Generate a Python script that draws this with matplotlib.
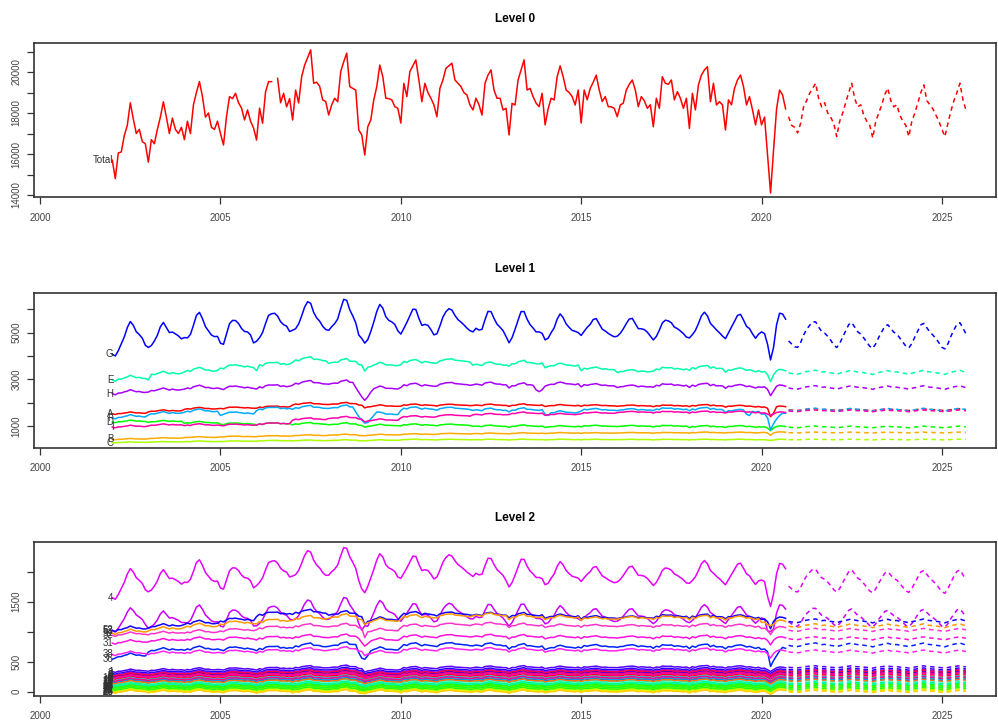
import numpy as np
import pandas as pd
import matplotlib
matplotlib.use("Agg")
import matplotlib.pyplot as plt

plt.rcParams['font.family'] = ['Liberation Sans', 'DejaVu Sans']

# ---------------- data ----------------
# history: monthly Jan 2002 .. Sep 2020, forecasts: Oct 2020 .. Sep 2025
first_year = 2002
fc_start = 2020 + 9 / 12

# Level 0 - Total, one row per year (Jan..Dec), July 2006 is missing
total_hist = [
    [15700, 14800, 16050, 16100, 16900, 17400, 18500, 17700, 17000, 17200, 16600, 16500],
    [15600, 16700, 16500, 17200, 17800, 18550, 17800, 17000, 17750, 17200, 17000, 17300],
    [16700, 17600, 17000, 18400, 19000, 19530, 18800, 17800, 18000, 17300, 17200, 17600],
    [17000, 16440, 17820, 18800, 18700, 18960, 18500, 18240, 17660, 18150, 17600, 17270],
    [16680, 18240, 17500, 19040, 19530, 19530, np.nan, 19690, 18500, 18960, 18300, 18700],
    [17660, 19120, 18490, 19770, 20340, 20700, 21080, 19450, 19500, 19300, 18640, 18560],
    [17900, 18400, 18720, 18550, 20020, 20500, 20920, 19290, 19200, 19120, 17170, 16930],
    [15950, 17330, 17660, 18640, 19290, 20340, 19770, 18720, 18700, 18640, 18310, 18230],
    [17510, 19450, 18800, 20020, 20300, 20590, 19610, 18550, 19450, 19000, 18720, 18400],
    [17820, 19200, 19610, 20180, 20300, 20430, 19610, 19450, 19290, 18990, 18880, 18390],
    [18150, 18720, 18400, 17900, 19450, 19850, 20100, 19120, 18720, 18720, 18150, 18230],
    [16930, 18470, 18390, 19610, 20100, 20590, 19120, 19200, 18800, 18480, 18310, 18960],
    [17420, 18200, 18720, 18640, 19770, 20300, 19770, 19120, 19000, 18800, 18390, 19120],
    [17510, 19120, 18640, 19200, 19500, 19850, 19120, 18560, 18800, 18310, 18300, 18230],
    [17820, 18390, 18480, 19120, 19400, 19610, 19120, 18310, 18800, 18600, 18230, 18400],
    [17330, 18720, 18230, 19770, 19450, 19400, 19610, 18640, 19040, 18720, 18230, 18720],
    [17250, 18960, 18150, 19370, 19850, 20100, 20260, 18550, 19450, 18390, 18550, 18400],
    [17170, 18640, 18400, 19200, 19610, 19850, 19290, 18390, 18800, 18150, 17420, 18150],
    [17420, 17800, 15950, 14100, 16200, 18200, 19120, 18880, 18200],
]
total_fc = [
    17820, 17400, 17300, 17030, 17500, 18310, 18600, 18960, 19200, 19450, 18700, 18300,
    18500, 18000, 17800, 17500, 16850, 17600, 18000, 18500, 19000, 19450, 18700, 18300,
    18400, 17900, 17600, 17400, 16780, 17600, 18000, 18400, 18900, 19210, 18600, 18300,
    18400, 17900, 17600, 17400, 16850, 17600, 18000, 18500, 19000, 19370, 18600, 18400,
    18200, 17900, 17600, 17200, 16850, 17500, 18100, 18600, 19000, 19450, 18640, 18150,
]

# Level 1 - yearly levels 2002..2020, forecast level, seasonal share of the total
lvl1_names = ['A', 'B', 'C', 'D', 'E', 'F', 'G', 'H', 'I']
lvl1_colors = ['#FF0000', '#FFAA00', '#AAFF00', '#00FF00', '#00FFAA',
               '#00AAFF', '#0000FF', '#AA00FF', '#FF00AA']
lvl1_levels = {
    'A': [1550, 1650, 1750, 1780, 1820, 1950, 1950, 1850, 1900, 1900, 1900, 1900, 1880, 1880, 1870, 1870, 1880, 1850, 1800],
    'B': [440, 480, 520, 550, 570, 600, 620, 620, 650, 670, 680, 690, 700, 700, 710, 710, 720, 720, 720],
    'C': [300, 320, 340, 350, 370, 380, 390, 390, 420, 420, 420, 420, 420, 420, 420, 420, 420, 420, 410],
    'D': [1200, 1200, 1150, 1100, 1100, 1100, 1080, 1020, 1050, 1050, 1000, 1000, 980, 1000, 1000, 1000, 980, 980, 950],
    'E': [3050, 3250, 3400, 3550, 3650, 3850, 3750, 3600, 3750, 3800, 3650, 3700, 3600, 3450, 3350, 3450, 3500, 3400, 3300],
    'F': [1400, 1550, 1650, 1550, 1750, 1800, 1800, 1500, 1750, 1750, 1700, 1700, 1580, 1700, 1700, 1730, 1730, 1650, 1500],
    'G': [4750, 4900, 5150, 5050, 5300, 5600, 5550, 5400, 5400, 5500, 5350, 5250, 5200, 5150, 5200, 5150, 5250, 5200, 5000],
    'H': [2450, 2550, 2650, 2650, 2700, 2850, 2850, 2600, 2750, 2800, 2800, 2750, 2800, 2750, 2700, 2750, 2750, 2700, 2650],
    'I': [980, 1050, 1050, 1050, 1100, 1300, 1350, 1250, 1400, 1450, 1500, 1550, 1500, 1560, 1600, 1600, 1600, 1600, 1550],
}
lvl1_fc = {'A': 1700, 'B': 720, 'C': 420, 'D': 960, 'E': 3300,
           'F': 1700, 'G': 4880, 'H': 2650, 'I': 1650}
lvl1_beta = {'A': 0.03, 'B': 0.015, 'C': 0.012, 'D': 0.03, 'E': 0.07,
             'F': 0.05, 'G': 0.55, 'H': 0.06, 'I': 0.03}
# (year, month, value) points that break the usual pattern
lvl1_fixes = {
    'A': [(2020, 4, 1400), (2020, 5, 1550)],
    'B': [(2020, 4, 600)],
    'C': [(2020, 4, 380)],
    'D': [(2020, 4, 800)],
    'E': [(2003, 1, 2970), (2006, 1, 3370), (2009, 1, 3350), (2020, 4, 2900), (2020, 5, 3200)],
    'F': [(2005, 1, 1450), (2005, 2, 1500), (2008, 10, 1600), (2008, 11, 1400), (2008, 12, 1250),
          (2009, 1, 1120), (2009, 2, 1150), (2009, 3, 1300), (2009, 4, 1450), (2009, 5, 1600),
          (2014, 1, 1500), (2014, 2, 1450), (2019, 8, 1500), (2019, 9, 1450),
          (2020, 3, 1350), (2020, 4, 830), (2020, 5, 1100), (2020, 6, 1300), (2020, 7, 1450), (2020, 8, 1550)],
    'G': [(2008, 11, 4900), (2008, 12, 4750), (2009, 1, 4550), (2009, 2, 4700),
          (2020, 3, 4500), (2020, 4, 3830)],
    'H': [(2008, 10, 2650), (2008, 11, 2450), (2008, 12, 2250), (2009, 1, 2100), (2009, 2, 2250),
          (2009, 3, 2450), (2009, 4, 2600), (2013, 10, 2550), (2013, 11, 2470), (2013, 12, 2550),
          (2020, 4, 2300), (2020, 5, 2500)],
    'I': [(2020, 4, 1450)],
}
# series whose swing follows the smoothed seasonal shape of the total
smooth_series = {'G', '4', '53'}

# Level 2 - the series that stand apart
lvl2_names = ['4', '53', '52', '51', '32', '31', '36', '38']
lvl2_colors = ['#E600FF', '#CC00FF', '#1400FF', '#FF9900', '#FF33CC', '#FF11DD', '#0022FF', '#FF22EE']
lvl2_levels = {
    '4':  [1800, 1850, 1950, 1900, 2000, 2100, 2100, 2020, 2050, 2100, 2030, 1980, 1960, 1930, 1950, 1930, 1970, 1940, 1850],
    '53': [1200, 1200, 1250, 1230, 1280, 1330, 1330, 1300, 1300, 1330, 1300, 1280, 1270, 1260, 1270, 1260, 1280, 1260, 1220],
    '52': [1050, 1100, 1150, 1200, 1300, 1330, 1300, 1200, 1300, 1300, 1290, 1280, 1260, 1240, 1240, 1260, 1260, 1250, 1200],
    '51': [1000, 1050, 1100, 1150, 1180, 1230, 1250, 1180, 1250, 1270, 1280, 1250, 1240, 1220, 1230, 1240, 1240, 1230, 1150],
    '32': [960, 980, 1000, 1030, 1070, 1100, 1100, 1020, 1100, 1120, 1130, 1110, 1100, 1100, 1100, 1100, 1110, 1100, 1050],
    '31': [830, 860, 880, 890, 900, 920, 920, 860, 920, 930, 930, 920, 910, 910, 910, 910, 915, 910, 880],
    '36': [600, 700, 720, 720, 730, 770, 780, 700, 780, 790, 780, 760, 740, 760, 760, 760, 760, 750, 700],
    '38': [640, 650, 660, 670, 680, 700, 710, 650, 700, 710, 710, 700, 690, 690, 700, 700, 700, 690, 660],
}
lvl2_fc = {'4': 1840, '53': 1230, '52': 1180, '51': 1100, '32': 1030, '31': 890, '36': 780, '38': 670}
lvl2_beta = {'4': 0.19, '53': 0.15, '52': 0.025, '51': 0.025, '32': 0.02, '31': 0.02, '36': 0.025, '38': 0.02}
lvl2_fixes = {
    '4': [(2009, 1, 1650), (2020, 4, 1420)],
    '53': [(2009, 1, 1100), (2020, 4, 1000)],
    '52': [(2009, 1, 1120), (2020, 4, 1050)],
    '51': [(2020, 4, 1100)],
    '32': [(2009, 1, 900), (2020, 4, 950)],
    '31': [(2008, 12, 820), (2009, 1, 760), (2009, 2, 800), (2020, 4, 780)],
    '36': [(2002, 1, 540), (2002, 2, 560), (2008, 11, 650), (2008, 12, 560), (2009, 1, 540),
           (2009, 2, 600), (2020, 4, 420), (2020, 5, 520), (2020, 6, 600), (2020, 7, 680)],
    '38': [(2009, 1, 600), (2020, 4, 560)],
}

# Level 2 - the crowded band near zero
band_names = ['1', '2', '3', '5', '6', '7', '8', '9', '10', '11', '12', '13', '14', '15',
              '16', '17', '18', '19', '20', '21', '22', '23', '24', '25', '26', '27', '28', '29']
band_colors = ['#5500FF', '#2200FF', '#8800FF', '#0000FF', '#FF0044', '#FF0066', '#FF0022',
               '#FF2200', '#FF00AA', '#00DDFF', '#00FFCC', '#00AAFF', '#0066FF', '#00FFEE',
               '#FF7700', '#00FF66', '#00FF00', '#22FF00', '#44FF00', '#00FF33', '#66FF00',
               '#00FF11', '#99FF00', '#CCFF00', '#FFEE00', '#FFCC00', '#00FFAA', '#FF0088']
band_base = [350, 320, 300, 275, 290, 260, 235, 215, 250, 210, 180, 195, 170, 150,
             160, 125, 105, 90, 75, 62, 50, 38, 27, 17, 9, 4, 115, 200]
band_index = [1.00, 1.04, 1.07, 1.09, 1.11, 1.17, 1.18, 1.04, 1.14, 1.16, 1.17, 1.17,
              1.16, 1.17, 1.18, 1.18, 1.19, 1.18, 1.10]
band_fc_index = 1.18
band_beta = 0.015

# ---------------- build the monthly series ----------------
tot_h = np.array([v for row in total_hist for v in row], dtype=float)
tot_f = np.array(total_fc, dtype=float)
n_h, n_f = len(tot_h), len(tot_f)
t_hist = first_year + np.arange(n_h) / 12
t_fc = fc_start + np.arange(n_f) / 12
year_idx = np.arange(n_h) // 12

annual = np.array([np.nanmean(row) for row in total_hist])
dev_h = pd.Series(tot_h - annual[year_idx]).ffill()
dev_f = pd.Series(tot_f - tot_f.mean())


def soften(s):
    # 1-2-1 weights, keeps the peaks but drops the month to month jitter
    return (0.25 * s.shift(1).bfill() + 0.5 * s + 0.25 * s.shift(-1).ffill()).values


dev_h_soft, dev_f_soft = soften(dev_h), soften(dev_f)
dev_h, dev_f = dev_h.values, dev_f.values


def build(levels, fc_level, beta, fixes=(), smooth=False):
    dh, df = (dev_h_soft, dev_f_soft) if smooth else (dev_h, dev_f)
    h = np.asarray(levels, dtype=float)[year_idx] + beta * dh
    for y, m, v in fixes:
        h[(y - first_year) * 12 + m - 1] = v
    f = fc_level + beta * df
    return h, f


def draw(ax, h, f, color, name):
    ax.plot(t_hist, h, color=color, lw=1.1)
    ax.plot(t_fc, f, color=color, lw=1.1, dashes=(3, 2.5))
    ax.text(2002.03, h[0], name, ha='right', va='center', fontsize=7, color='#333333')


# ---------------- figure ----------------
W, H = 998, 724
fig = plt.figure(figsize=(W / 100, H / 100), dpi=100)


def panel(top, bottom):
    return fig.add_axes([34 / W, 1 - bottom / H, 962 / W, (bottom - top) / H])


def style(ax, ylim, yticks, ylabels, title):
    ax.set_xlim(1999.83, 2026.5)
    ax.set_ylim(*ylim)
    ax.set_xticks(range(2000, 2026, 5))
    ax.set_xticklabels([str(y) for y in range(2000, 2026, 5)])
    ax.set_yticks(yticks)
    ax.set_yticklabels(ylabels, rotation=90, va='center')
    ax.tick_params(direction='out', length=5, width=0.9, colors='#333333',
                   labelcolor='#444444', labelsize=7)
    ax.tick_params(axis='x', pad=6)
    ax.tick_params(axis='y', pad=4)
    for s in ax.spines.values():
        s.set_linewidth(1.2)
        s.set_color('#333333')
    ax.set_title(title, fontsize=8.5, fontweight='bold', pad=15)


ax0 = panel(43.3, 197.3)
ax1 = panel(293.3, 447.7)
ax2 = panel(541.7, 696)

# Level 0
ax0.plot(t_hist, tot_h, color='#FF0000', lw=1.1)
ax0.plot(t_fc, tot_f, color='#FF0000', lw=1.1, dashes=(3, 2.5))
ax0.text(2002.03, tot_h[0], 'Total', ha='right', va='center', fontsize=7, color='#333333')
style(ax0, (13888, 21400), range(14000, 21001, 1000),
      ['14000', '', '16000', '', '18000', '', '20000', ''], 'Level 0')

# Level 1
for name, col in zip(lvl1_names, lvl1_colors):
    h, f = build(lvl1_levels[name], lvl1_fc[name], lvl1_beta[name],
                 lvl1_fixes.get(name, ()), name in smooth_series)
    draw(ax1, h, f, col, name)
style(ax1, (70, 6685), range(1000, 6001, 1000),
      ['1000', '', '3000', '', '5000', ''], 'Level 1')

# Level 2
for name, col, base in zip(band_names, band_colors, band_base):
    h, f = build(np.array(band_index) * base, band_fc_index * base, band_beta)
    draw(ax2, h, f, col, name)
for name, col in zip(lvl2_names, lvl2_colors):
    h, f = build(lvl2_levels[name], lvl2_fc[name], lvl2_beta[name],
                 lvl2_fixes.get(name, ()), name in smooth_series)
    draw(ax2, h, f, col, name)
style(ax2, (-72, 2500), range(0, 2001, 500),
      ['0', '500', '', '1500', ''], 'Level 2')

fig.savefig('out.png', dpi=100)
